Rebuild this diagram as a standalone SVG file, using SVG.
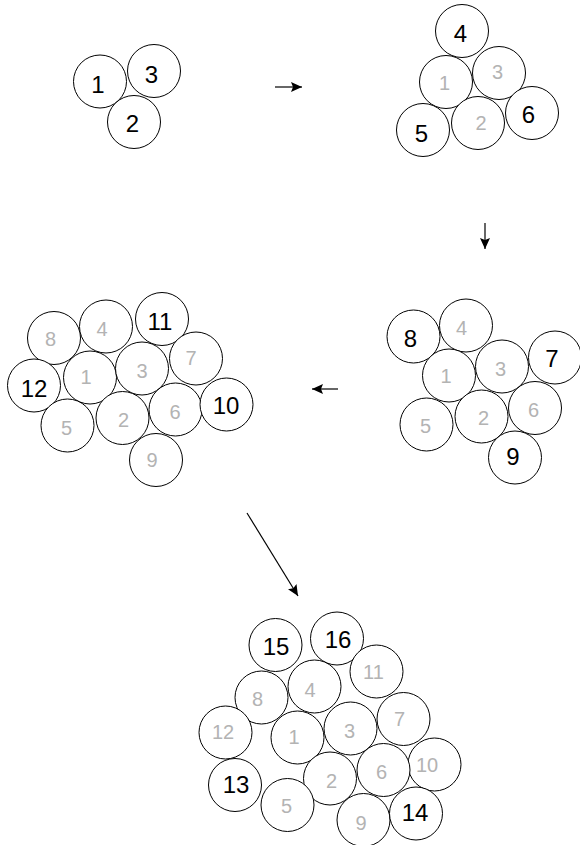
<svg xmlns="http://www.w3.org/2000/svg" width="580" height="845" viewBox="0 0 580 845">
<defs>
<marker id="ah" markerUnits="userSpaceOnUse" markerWidth="12" markerHeight="11" refX="11" refY="5" orient="auto">
<path d="M0,0 L11,5 L0,10 L2,5 Z" fill="#000"/>
</marker>
<style>
circle{fill:#fff;stroke:#000;stroke-width:1}
text{font-family:"Liberation Sans",Arial,sans-serif;text-anchor:middle}
.b{font-size:24px;fill:#000}
.g{font-size:20px;fill:#b3b3b3}
.con line{stroke:#000;stroke-width:1.2;fill:none;marker-end:url(#ah)}
</style>
</defs>
<rect width="580" height="845" fill="#fff"/>
<g class="con" id="connectors">
<line x1="275" y1="87" x2="302" y2="87"/>
<line x1="485" y1="223" x2="485" y2="249"/>
<line x1="338" y1="389" x2="312" y2="389"/>
<line x1="247" y1="513" x2="298" y2="596"/>
</g>
<g id="stage1">
<g id="a1"><circle cx="100" cy="81.5" r="26.5"/><text class="b" x="98" y="92.5">1</text></g>
<g id="a3"><circle cx="154" cy="71" r="26.5"/><text class="b" x="151.5" y="83">3</text></g>
<g id="a2"><circle cx="134" cy="122" r="26.5"/><text class="b" x="132.5" y="131.5">2</text></g>
</g>
<g id="stage2">
<g id="b4"><circle cx="462" cy="31" r="26.5"/><text class="b" x="460.5" y="42">4</text></g>
<g id="b1"><circle cx="446" cy="82" r="26.5"/><text class="g" x="444.5" y="89.5">1</text></g>
<g id="b3"><circle cx="499" cy="73" r="26.5"/><text class="g" x="497.5" y="79">3</text></g>
<g id="b5"><circle cx="423" cy="130" r="26.5"/><text class="b" x="421.5" y="141.5">5</text></g>
<g id="b2"><circle cx="478" cy="123" r="26.5"/><text class="g" x="481" y="129.5">2</text></g>
<g id="b6"><circle cx="532" cy="113" r="26.5"/><text class="b" x="528.5" y="123">6</text></g>
</g>
<g id="stage3">
<g id="c8"><circle cx="413.5" cy="336.5" r="26.5"/><text class="b" x="410.5" y="347">8</text></g>
<g id="c4"><circle cx="466" cy="325.5" r="26.5"/><text class="g" x="461.5" y="335">4</text></g>
<g id="c1"><circle cx="449" cy="375.5" r="26.5"/><text class="g" x="446" y="383">1</text></g>
<g id="c3"><circle cx="502" cy="366.5" r="26.5"/><text class="g" x="500.5" y="376">3</text></g>
<g id="c7"><circle cx="555" cy="357.5" r="26.5"/><text class="b" x="552" y="367">7</text></g>
<g id="c5"><circle cx="426.5" cy="424.5" r="26.5"/><text class="g" x="425.5" y="433">5</text></g>
<g id="c2"><circle cx="481.5" cy="416.5" r="26.5"/><text class="g" x="483.5" y="425">2</text></g>
<g id="c6"><circle cx="535" cy="408" r="26.5"/><text class="g" x="533.5" y="417">6</text></g>
<g id="c9"><circle cx="515" cy="457.5" r="26.5"/><text class="b" x="513" y="465">9</text></g>
</g>
<g id="stage4">
<g id="d8"><circle cx="54" cy="338" r="26.5"/><text class="g" x="50.5" y="345.5">8</text></g>
<g id="d4"><circle cx="106" cy="326.5" r="26.5"/><text class="g" x="102" y="336">4</text></g>
<g id="d11"><circle cx="162" cy="319" r="26.5"/><text class="b" x="160" y="329.5">11</text></g>
<g id="d12"><circle cx="34" cy="385.5" r="26.5"/><text class="b" x="34" y="397">12</text></g>
<g id="d1"><circle cx="90" cy="377.5" r="26.5"/><text class="g" x="86" y="383.5">1</text></g>
<g id="d3"><circle cx="142" cy="368.5" r="26.5"/><text class="g" x="142" y="378">3</text></g>
<g id="d7"><circle cx="196" cy="358.5" r="26.5"/><text class="g" x="191" y="365">7</text></g>
<g id="d5"><circle cx="67.5" cy="425.5" r="26.5"/><text class="g" x="66.5" y="435">5</text></g>
<g id="d2"><circle cx="122.5" cy="418" r="26.5"/><text class="g" x="123.5" y="427">2</text></g>
<g id="d6"><circle cx="175.5" cy="409.5" r="26.5"/><text class="g" x="175" y="419">6</text></g>
<g id="d10"><circle cx="226.5" cy="404.5" r="26.5"/><text class="b" x="226" y="414">10</text></g>
<g id="d9"><circle cx="156" cy="460" r="26.5"/><text class="g" x="152" y="467">9</text></g>
</g>
<g id="stage5">
<g id="e15"><circle cx="275.5" cy="645" r="26.5"/><text class="b" x="276" y="655">15</text></g>
<g id="e16"><circle cx="337" cy="638.5" r="26.5"/><text class="b" x="338" y="648">16</text></g>
<g id="e11"><circle cx="376.5" cy="671.5" r="26.5"/><text class="g" x="373.5" y="678.5">11</text></g>
<g id="e8"><circle cx="261.5" cy="697.5" r="26.5"/><text class="g" x="257.5" y="706">8</text></g>
<g id="e4"><circle cx="314.5" cy="686.5" r="26.5"/><text class="g" x="310" y="697">4</text></g>
<g id="e7"><circle cx="403.5" cy="719" r="26.5"/><text class="g" x="399.5" y="726">7</text></g>
<g id="e12"><circle cx="225.5" cy="732.5" r="26.5"/><text class="g" x="223" y="739">12</text></g>
<g id="e1"><circle cx="297.5" cy="737.5" r="26.5"/><text class="g" x="294" y="744">1</text></g>
<g id="e3"><circle cx="350.5" cy="728.5" r="26.5"/><text class="g" x="349.5" y="737.5">3</text></g>
<g id="e10"><circle cx="434.5" cy="764.5" r="26.5"/><text class="g" x="427" y="771.5">10</text></g>
<g id="e6"><circle cx="383.5" cy="770" r="26.5"/><text class="g" x="381.5" y="779">6</text></g>
<g id="e2"><circle cx="330" cy="778.5" r="26.5"/><text class="g" x="331.5" y="788">2</text></g>
<g id="e13"><circle cx="235" cy="785" r="26.5"/><text class="b" x="236" y="792.5">13</text></g>
<g id="e5"><circle cx="287.5" cy="805" r="26.5"/><text class="g" x="286.5" y="813">5</text></g>
<g id="e9"><circle cx="363.5" cy="820" r="26.5"/><text class="g" x="361" y="829.5">9</text></g>
<g id="e14"><circle cx="416" cy="813.5" r="26.5"/><text class="b" x="415" y="821">14</text></g>
</g>
</svg>
